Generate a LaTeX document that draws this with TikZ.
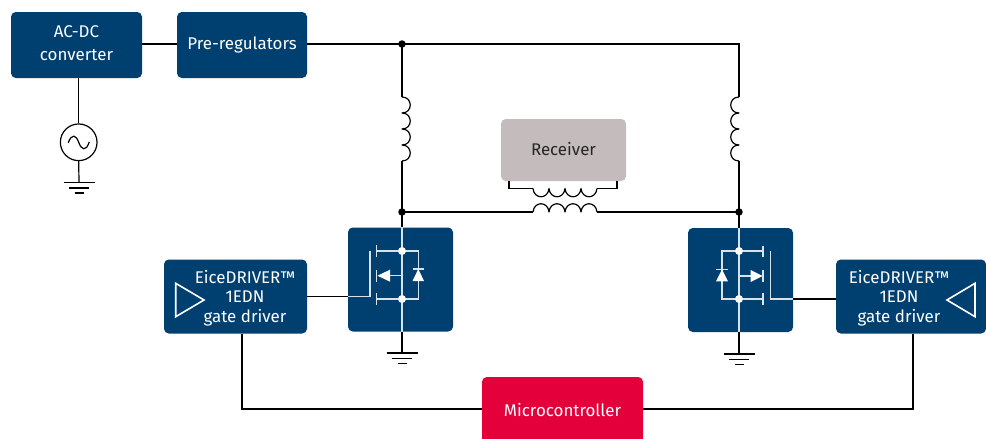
\documentclass[tikz,border=0pt]{standalone}
\usepackage{fontspec}
\setmainfont{Fira Sans}
\definecolor{ifxblue}{HTML}{004071}
\definecolor{ifxred}{HTML}{E4003A}
\definecolor{ifxgrey}{HTML}{C4BCBC}
\definecolor{inner}{HTML}{D8E2EA}
\tikzset{
  boxbase/.style={rectangle,rounded corners=3.6pt,inner sep=0pt,align=center,font=\fontsize{12.7}{14.6}\selectfont},
  bluebox/.style={boxbase,fill=ifxblue,text=white},
  wire/.style={draw=black,line width=0.9pt},
  wwire/.style={draw=inner,line width=0.9pt},
  wdot/.style={circle,fill=white,inner sep=0pt,minimum size=6pt},
  bdot/.style={circle,fill=black,inner sep=0pt,minimum size=5.6pt},
  coilv/.pic={\draw[wire,line join=round] (0,0) .. controls (11,0) and (11,16) .. (0,16) .. controls (11,16) and (11,32) .. (0,32) .. controls (11,32) and (11,48) .. (0,48) .. controls (11,48) and (11,64) .. (0,64);},
  coilh/.pic={\draw[wire,line join=round] (0,0) .. controls (1,-11) and (15,-11) .. (16,0) .. controls (17,-11) and (31,-11) .. (32,0) .. controls (33,-11) and (47,-11) .. (48,0) .. controls (49,-11) and (63,-11) .. (64,0);},
  ground/.pic={\draw[wire] (-15.5,0) -- (15.5,0); \draw[wire] (-10,5.5) -- (10,5.5); \draw[wire] (-4.5,10.5) -- (4.5,10.5);}
}
\begin{document}
\begin{tikzpicture}[x=0.75pt,y=-0.75pt]
\useasboundingbox (0,0) rectangle (986,439);
% junctions
\coordinate (topL) at (402,44);
\coordinate (topR) at (739,44);
\coordinate (coilLa) at (402,97);
\coordinate (coilLb) at (402,161);
\coordinate (coilRa) at (739,97);
\coordinate (coilRb) at (739,161);
\coordinate (midL) at (402,212);
\coordinate (midR) at (739,212);
\coordinate (priA) at (533,212);
\coordinate (priB) at (597,212);
\coordinate (secA) at (533,188.5);
\coordinate (secB) at (597,188.5);
\coordinate (recA) at (509,181);
\coordinate (recB) at (617,181);
\coordinate (gndL) at (402,353);
\coordinate (gndR) at (739,354);
\coordinate (gndS) at (79,182.5);
\coordinate (drainL) at (402,251);
\coordinate (sourceL) at (402,299);
\coordinate (drainR) at (739,251);
\coordinate (sourceR) at (739,299);
\coordinate (gateLt) at (370,251);
\coordinate (gateLb) at (370,296.5);
\coordinate (gateRt) at (770.5,251);
\coordinate (gateRb) at (770.5,299);
% blocks
\node[bluebox,minimum width=98.25pt,minimum height=49.5pt] (ac) at (76.5,45) {\raisebox{-3pt}{\begin{tabular}{@{}c@{}}AC-DC\\[2.4pt]converter\end{tabular}}};
\node[bluebox,minimum width=97.5pt,minimum height=49.5pt] (pre) at (242,45) {\raisebox{0.8pt}{Pre-regulators}};
\node[boxbase,fill=ifxgrey,text=black!85,minimum width=93.75pt,minimum height=46.5pt] (rec) at (563.5,150) {\raisebox{1.3pt}{Receiver}};
\node[bluebox,minimum width=78.75pt,minimum height=78pt] (qL) at (400.5,279.5) {};
\node[bluebox,minimum width=78.75pt,minimum height=78pt] (qR) at (740.5,280) {};
\node[boxbase,fill=ifxblue,minimum width=107.25pt,minimum height=55.5pt] (drvL) at (235.5,296.5) {};
\node[boxbase,fill=ifxblue,minimum width=112.5pt,minimum height=55.5pt] (drvR) at (911,296.5) {};
\node[boxbase,text=white] (drvLt) at (245,298) {EiceDRIVER™\\1EDN\\gate driver};
\node[boxbase,text=white] (drvRt) at (899,298) {EiceDRIVER™\\1EDN\\gate driver};
\node[boxbase,fill=ifxred,text=white,minimum width=120.75pt,minimum height=49.5pt] (mcu) at (562.5,410) {\raisebox{0.8pt}{Microcontroller}};
\node[circle,draw=black,line width=0.9pt,fill=white,inner sep=0pt,minimum size=27.5pt] (src) at (78.7,142.3) {};
% wires
\draw[wire] (ac.east |- topL) -- (pre.west |- topL);
\draw[wire] (pre.east |- topL) -- (topL) -- (topR) -- (coilRa);
\draw[wire] (topL) -- (coilLa);
\draw[wire] (coilLb) -- (midL) -- (priA);
\draw[wire] (priB) -- (midR) -- (coilRb);
\draw[wire] (midL) -- (qL.north -| midL);
\draw[wire] (midR) -- (qR.north -| midR);
\draw[wire] (qL.south -| gndL) -- (gndL);
\draw[wire] (qR.south -| gndR) -- (gndR);
\draw[wire] (recA) |- (secA);
\draw[wire] (recB) |- (secB);
\draw[wire] (ac.south -| src) -- (src.north);
\draw[wire] (src.south) -- (gndS);
\draw[wire] (drvL.east) -- (qL.west |- gateLb);
\draw[wire] (drvR.west |- gateRb) -- (qR.east |- gateRb);
\draw[wire] (drvL.south -| 242,0) |- (mcu.west |- 0,409);
\draw[wire] (drvR.south -| 913,0) |- (mcu.east |- 0,409);
\pic at (coilLa) {coilv};
\pic[xscale=-1] at (coilRa) {coilv};
\pic at (priA) {coilh};
\pic[yscale=-1] at (secA) {coilh};
\pic at (gndL) {ground};
\pic at (gndR) {ground};
\pic at (gndS) {ground};
\node[bdot] (dTopL) at (topL) {};
\node[bdot] (dMidL) at (midL) {};
\node[bdot] (dMidR) at (midR) {};
% sine
\draw[wire] (68.2,142.8) .. controls (72,133) and (76,135) .. (78.7,142.3) .. controls (81.5,150) and (86,152) .. (89.2,142);
% left MOSFET
\draw[wwire] (qL.north -| drainL) -- (qL.south -| drainL);
\draw[wwire] (376.7,245) -- (376.7,257);
\draw[wwire] (376.7,270) -- (376.7,282);
\draw[wwire] (376.7,293) -- (376.7,304.5);
\draw[wwire] (376.7,251) -- (drainL) -- (418.3,251) -- (418.3,299) -- (sourceL) -- (376.7,299);
\draw[wwire] (388,275.7) -- (402,275.7) -- (sourceL);
\draw[wwire] (qL.west |- gateLb) -- (gateLb) -- (gateLt);
\draw[wwire] (412.5,269) -- (424,269);
\fill[white] (418.3,269) -- (424,281) -- (412.5,281) -- cycle;
\fill[white] (377.5,275.7) -- (390,269.7) -- (390,281.7) -- cycle;
\node[wdot] (wdL1) at (drainL) {};
\node[wdot] (wdL2) at (sourceL) {};
% right MOSFET
\draw[wwire] (qR.north -| drainR) -- (qR.south -| drainR);
\draw[wwire] (763,245.5) -- (763,257);
\draw[wwire] (763,270) -- (763,282);
\draw[wwire] (763,293) -- (763,305);
\draw[wwire] (763,251) -- (drainR) -- (722,251) -- (722,299) -- (sourceR) -- (763,299);
\draw[wwire] (752,276) -- (739,276) -- (sourceR);
\draw[wwire] (gateRt) -- (gateRb) -- (qR.east |- gateRb);
\draw[wwire] (716,269.3) -- (728,269.3);
\fill[white] (722,269.3) -- (728,281.3) -- (716,281.3) -- cycle;
\fill[white] (762.5,276) -- (750.5,270) -- (750.5,282) -- cycle;
\node[wdot] (wdR1) at (drainR) {};
\node[wdot] (wdR2) at (sourceR) {};
% driver triangles
\draw[draw=white,line width=1.2pt,line join=miter] (175.7,283.3) -- (204,300) -- (175.7,316.7) -- cycle;
\draw[draw=white,line width=1.2pt,line join=miter] (975,283.3) -- (947,300) -- (975,316.7) -- cycle;
\end{tikzpicture}
\end{document}
